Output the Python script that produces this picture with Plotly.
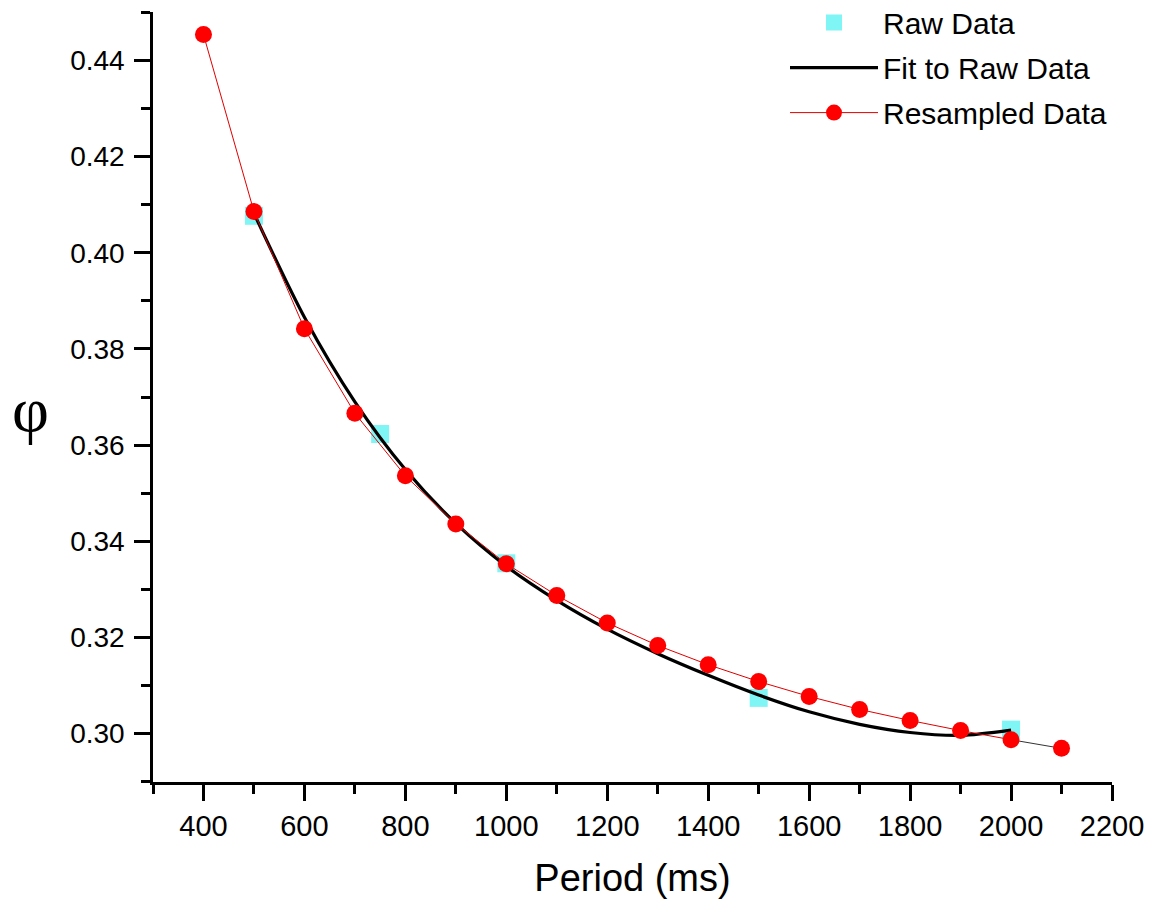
import plotly.graph_objects as go

# ---- data ----
raw_period = [500, 750, 1000, 1500, 2000]
raw_phi = [0.4077, 0.3623, 0.3354, 0.3074, 0.3008]

fit_period = [500, 600, 700, 800, 900, 1000, 1100, 1200, 1300, 1400, 1500,
              1600, 1700, 1800, 1900, 2000]
fit_phi = [0.4082, 0.3866, 0.3690, 0.3549, 0.3437, 0.3348, 0.3277, 0.3217,
           0.3166, 0.3121, 0.3080, 0.3045, 0.3019, 0.3002, 0.2996, 0.3007]

res_period = [400, 500, 600, 700, 800, 900, 1000, 1100, 1200, 1300, 1400,
              1500, 1600, 1700, 1800, 1900, 2000, 2100]
res_phi = [0.4454, 0.4086, 0.3842, 0.3666, 0.3536, 0.3436, 0.3353, 0.3287,
           0.3230, 0.3183, 0.3143, 0.3108, 0.3077, 0.3050, 0.3027, 0.3006,
           0.2987, 0.2969]

x_ticks = [400, 600, 800, 1000, 1200, 1400, 1600, 1800, 2000, 2200]
y_ticks = [0.30, 0.32, 0.34, 0.36, 0.38, 0.40, 0.42, 0.44]

x_title = "Period (ms)"
y_title = "φ"

FONT = "Arial, Liberation Sans, sans-serif"
SERIF = "Liberation Serif, Times New Roman, serif"

fig = go.Figure()

fig.add_trace(go.Scatter(
    x=raw_period, y=raw_phi, mode="markers", name="Raw Data",
    legendgroup="a",
    marker=dict(symbol="square", size=18, color="#80F5F5", line=dict(width=0)),
))
fig.add_trace(go.Scatter(
    x=fit_period, y=fit_phi, mode="lines", name="Fit to Raw Data",
    legendgroup="b",
    line=dict(color="black", width=3.2, shape="spline", smoothing=0.8),
))
# last segment of the resampled data is drawn as a thin dark line
fig.add_trace(go.Scatter(
    x=res_period[-2:], y=res_phi[-2:], mode="lines", showlegend=False,
    line=dict(color="#333333", width=1), hoverinfo="skip",
))
fig.add_trace(go.Scatter(
    x=res_period[:-1], y=res_phi[:-1], mode="lines+markers", name="Resampled Data",
    legendgroup="c",
    line=dict(color="#E00000", width=1),
    marker=dict(symbol="circle", size=17, color="#FF0000", line=dict(width=0)),
))
fig.add_trace(go.Scatter(
    x=res_period[-1:], y=res_phi[-1:], mode="markers", showlegend=False,
    marker=dict(symbol="circle", size=17, color="#FF0000", line=dict(width=0)),
))

# page body has an 8px margin: figure is drawn 8px right/down of window origin
fig.update_layout(
    width=1148, height=895,
    margin=dict(l=145, r=44, t=4, b=121, autoexpand=False),
    paper_bgcolor="white", plot_bgcolor="white",
    font=dict(family=FONT, size=28, color="black"),
    showlegend=True,
    legend=dict(
        x=1.0, y=1.02, xanchor="right", yanchor="top",
        bgcolor="rgba(0,0,0,0)", borderwidth=0,
        font=dict(family=FONT, size=30, color="black"),
        itemwidth=88, tracegroupgap=3,
        traceorder="grouped",
    ),
    xaxis=dict(
        range=[300, 2200], tickmode="array", tickvals=x_ticks,
        ticktext=[str(v) for v in x_ticks],
        showline=True, linecolor="black", linewidth=2.5,
        ticks="outside", ticklen=16, tickwidth=2.5, tickcolor="black",
        minor=dict(dtick=100, tick0=300, ticks="outside", ticklen=9,
                   tickwidth=2.5, tickcolor="black", showgrid=False),
        showgrid=False, zeroline=False, automargin=False,
        tickfont=dict(family=FONT, size=29),
        title=dict(text=x_title, font=dict(family=FONT, size=38),
                   standoff=24),
    ),
    yaxis=dict(
        range=[0.2899, 0.4501], tickmode="array", tickvals=y_ticks,
        ticktext=[f"{v:.2f}" for v in y_ticks],
        showline=True, linecolor="black", linewidth=2.5,
        ticks="outside", ticklen=16, tickwidth=2.5, tickcolor="black",
        minor=dict(dtick=0.01, tick0=0.29, ticks="outside", ticklen=9,
                   tickwidth=2.5, tickcolor="black", showgrid=False),
        showgrid=False, zeroline=False, automargin=False,
        ticklabelstandoff=4,
        tickfont=dict(family=FONT, size=28),
    ),
    annotations=[dict(
        text=y_title, xref="paper", yref="paper", x=0, y=0.5,
        xanchor="center", yanchor="middle", xshift=-123, yshift=-12,
        showarrow=False, font=dict(family=SERIF, size=64, color="black"),
    )],
)

fig.write_html("out.html")
